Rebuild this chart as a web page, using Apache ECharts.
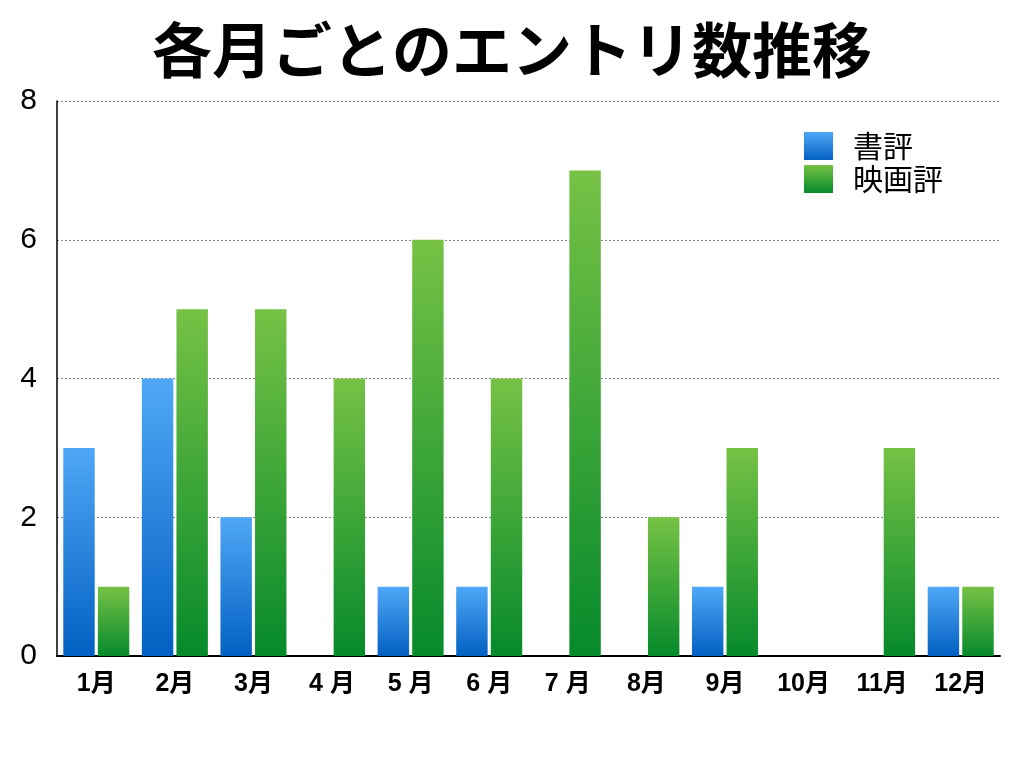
<!DOCTYPE html>
<html>
<head>
<meta charset="utf-8">
<script src="https://cdn.jsdelivr.net/npm/echarts@6/dist/echarts.min.js"></script>
<style>
  html, body { margin: 0; padding: 0; background: #fff; }
  #chart { width: 1024px; height: 768px; }
</style>
</head>
<body>
<div id="chart"></div>
<script>
var months = ['1月', '2月', '3月', '4 月', '5 月', '6 月', '7 月', '8月', '9月', '10月', '11月', '12月'];
var shohyo = [3, 4, 2, 0, 1, 1, 0, 0, 1, 0, 0, 1];
var eigahyo = [1, 5, 5, 4, 6, 4, 7, 2, 3, 0, 3, 1];

var chartDom = document.getElementById('chart');
var myChart = echarts.init(chartDom);
var font = '"Noto Sans CJK JP", "Noto Sans", sans-serif';
var numFont = '"Liberation Sans", "Noto Sans CJK JP", sans-serif';

function grad(top, bottom) {
    return new echarts.graphic.LinearGradient(0, 0, 0, 1, [
        { offset: 0, color: top },
        { offset: 1, color: bottom }
    ]);
}

var option = {
    animation: false,
    title: {
        text: '各月ごとのエントリ数推移',
        left: 'center',
        top: 15,
        textStyle: { fontFamily: font, fontSize: 60, fontWeight: 'bold', color: '#000' }
    },
    legend: {
        orient: 'vertical',
        left: 799,
        top: 126,
        itemWidth: 29,
        itemHeight: 28,
        itemGap: 3,
        icon: 'rect',
        textStyle: { fontFamily: font, fontSize: 30, color: '#000', padding: [0, 0, 0, 15] },
        data: ['書評', '映画評']
    },
    grid: { left: 57, right: 24, top: 101, bottom: 112 },
    xAxis: {
        type: 'category',
        data: months,
        axisLine: { lineStyle: { color: '#000', width: 2 } },
        axisTick: { show: false },
        axisLabel: { fontFamily: numFont, fontSize: 25, fontWeight: 'bold', color: '#000', margin: 16 }
    },
    yAxis: {
        type: 'value',
        min: 0,
        max: 8,
        interval: 2,
        axisLine: { show: true, lineStyle: { color: '#000', width: 1.5 } },
        axisTick: { show: false },
        axisLabel: { fontFamily: numFont, fontSize: 30, color: '#000', margin: 20 },
        splitLine: { lineStyle: { color: '#888', type: [2, 2], width: 1 } }
    },
    series: [{
            name: '書評',
            type: 'bar',
            data: shohyo,
            barGap: '10%',
            barCategoryGap: '16%',
            itemStyle: { color: grad('#4fa8f6', '#0260c2') }
        },
        {
            name: '映画評',
            type: 'bar',
            data: eigahyo,
            itemStyle: { color: grad('#76c245', '#068a2b') }
        }
    ]
};

option && myChart.setOption(option);
</script>
</body>
</html>
